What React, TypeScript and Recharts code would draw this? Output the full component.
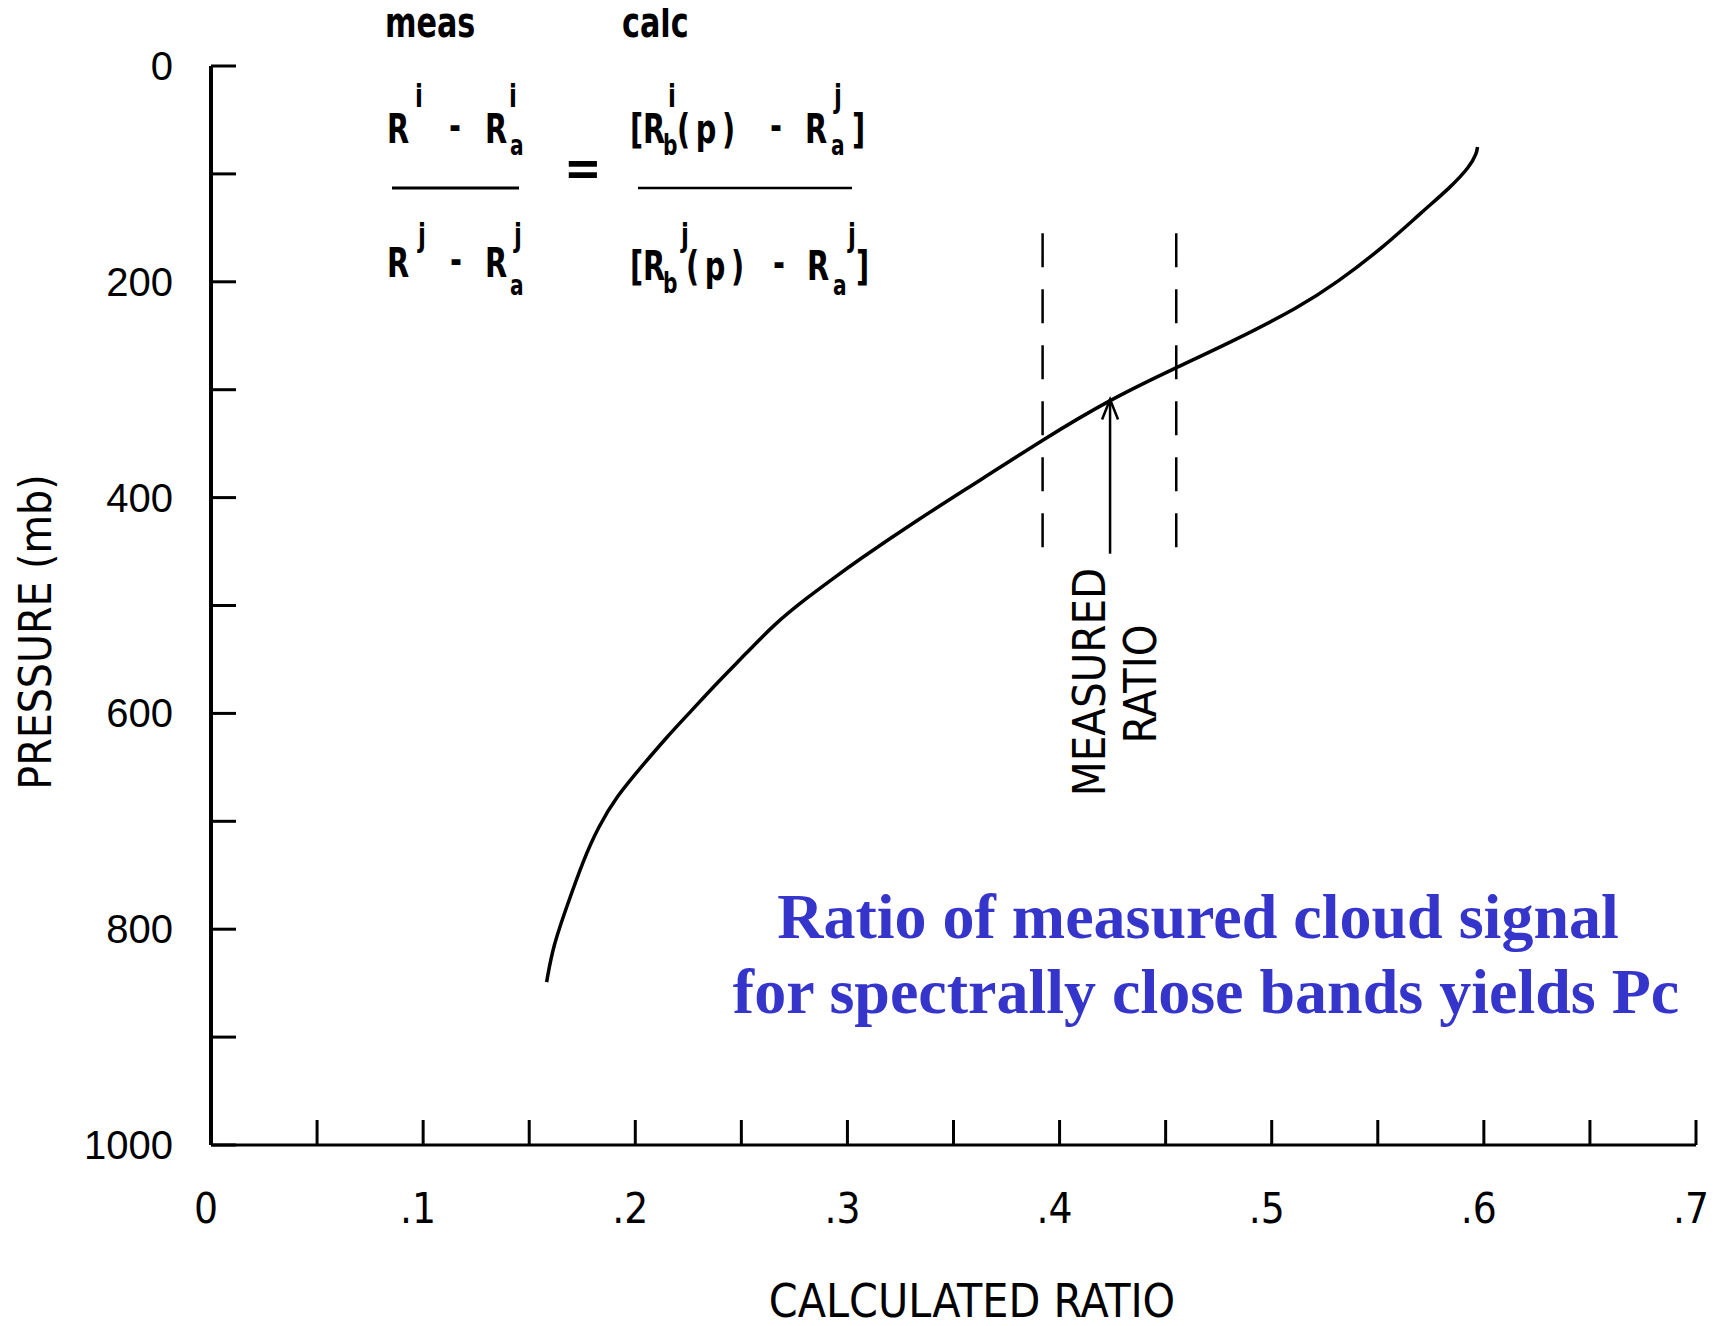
import React from 'react';
import { LineChart, Line, XAxis, YAxis, ReferenceLine } from 'recharts';

// ─── Data ────────────────────────────────────────────────────────────────────
const calcRatio = [
  0.1582, 0.1612, 0.1677, 0.1755, 0.1826, 0.1912, 0.2022, 0.2148, 0.2258, 0.2384, 0.2525, 0.2651,
  0.2808, 0.2933, 0.3036, 0.3327, 0.3641, 0.3923, 0.4238, 0.4544, 0.4819, 0.5133, 0.5306, 0.5526,
  0.5715, 0.584, 0.5935, 0.5966, 0.597,
];
const pressureMb = [
  849, 816, 779, 736, 705, 677, 651, 622, 599, 572, 544, 518,
  493, 475, 460, 421, 382, 346, 309, 280, 255, 223, 201, 168,
  134, 113, 93, 81, 75,
];

const xTicks = [0, 0.05, 0.1, 0.15, 0.2, 0.25, 0.3, 0.35, 0.4, 0.45, 0.5, 0.55, 0.6, 0.65, 0.7];
const xTickLabels = ['0', '', '.1', '', '.2', '', '.3', '', '.4', '', '.5', '', '.6', '', '.7'];
const yTicks = [0, 100, 200, 300, 400, 500, 600, 700, 800, 900, 1000];
const yTickLabels = ['0', '', '200', '', '400', '', '600', '', '800', '', '1000'];

// measured-ratio band (dashed) and arrow
const bandRatios = [0.392, 0.455];
const bandPressure = [155, 446];
const measuredRatio = 0.4238;
const arrowPressure = [452, 309];

const rows = calcRatio.map((r, i) => ({ r, p: pressureMb[i] }));

// ─── Fonts ───────────────────────────────────────────────────────────────────
const NARROW = "'Liberation Sans Narrow', 'DejaVu Sans Condensed', 'Arial Narrow', sans-serif";
const SANS = "'Liberation Sans', Arial, sans-serif";
const SERIF = "'Liberation Serif', 'Times New Roman', serif";

// ─── Ticks ───────────────────────────────────────────────────────────────────
const XTick = ({ x, y, index }: any) => {
  const label = xTickLabels[index];
  if (!label) return null;
  return (
    <text x={x - 5} y={y} textAnchor="middle" dominantBaseline="central"
      fontFamily={NARROW} fontSize={42} fill="#000">{label}</text>
  );
};

const YTick = ({ x, y, index }: any) => {
  const label = yTickLabels[index];
  if (!label) return null;
  return (
    <text x={x} y={y} textAnchor="end" dominantBaseline="central"
      fontFamily={SANS} fontSize={40} fill="#000">{label}</text>
  );
};

const ArrowShape = ({ x1, y1, x2, y2 }: any) => (
  <g stroke="#000" strokeWidth={2.5} fill="none">
    <line x1={x1} y1={y1} x2={x2} y2={y2} />
    <polyline points={`${x2 - 8},${y2 + 20} ${x2},${y2} ${x2 + 8},${y2 + 20}`} />
  </g>
);

// ─── Formula (main, sub, sup pieces) ─────────────────────────────────────────
type Piece = [string, number, number, number];
const formula: Piece[] = [
  ['meas', 385, 37, 42], ['calc', 622, 37, 42],
  // numerator left
  ['R', 387, 143, 40], ['i', 415, 107, 32], ['-', 449, 140, 40],
  ['R', 485, 143, 40], ['a', 510, 155, 28], ['i', 509, 107, 32],
  // numerator right
  ['[', 630, 143, 40], ['R', 643, 143, 40], ['b', 663, 155, 28], ['i', 668, 107, 32],
  ['(p)', 677, 143, 40], ['-', 770, 140, 40], ['R', 805, 143, 40], ['a', 831, 155, 28],
  ['j', 834, 107, 32], [']', 852, 143, 40],
  // denominator left
  ['R', 387, 277, 40], ['j', 418, 246, 32], ['-', 450, 274, 40],
  ['R', 485, 277, 40], ['a', 510, 295, 28], ['j', 514, 246, 32],
  // denominator right
  ['[', 630, 280, 40], ['R', 643, 280, 40], ['b', 663, 293, 28], ['j', 681, 246, 32],
  ['(p)', 686, 280, 40], ['-', 773, 277, 40], ['R', 807, 280, 40], ['a', 833, 295, 28],
  ['j', 848, 246, 32], [']', 856, 280, 40],
];

const Overlay = () => (
  <svg width={1700} height={1310} style={{ position: 'absolute', left: 0, top: 0, overflow: 'visible', pointerEvents: 'none' }}>
    <g transform="translate(-8,-8)">
      {formula.map(([t, x, y, s], i) => (
        <text key={i} transform={`translate(${x},${y}) scale(0.8,1)`} fontFamily={NARROW}
          fontWeight="bold" fontSize={s} fill="#000" letterSpacing={t === '(p)' ? 7 : 0}>{t}</text>
      ))}
      <line x1={392} y1={188} x2={519} y2={188} stroke="#000" strokeWidth={3} />
      <line x1={638} y1={188} x2={852} y2={188} stroke="#000" strokeWidth={2.5} />
      <text x={564} y={185} fontFamily={NARROW} fontWeight="bold" fontSize={50} fill="#000">=</text>

      <text transform="translate(35,632) rotate(-90)" textAnchor="middle" dominantBaseline="central"
        fontFamily={NARROW} fontSize={44} fill="#000">PRESSURE (mb)</text>
      <text x={972} y={1317} textAnchor="middle" fontFamily={NARROW} fontSize={46} fill="#000">CALCULATED RATIO</text>

      <text transform="translate(1089,682) rotate(-90)" textAnchor="middle" dominantBaseline="central"
        fontFamily={NARROW} fontSize={45} fill="#000">MEASURED</text>
      <text transform="translate(1140,684) rotate(-90)" textAnchor="middle" dominantBaseline="central"
        fontFamily={NARROW} fontSize={45} fill="#000">RATIO</text>

      <text x={1198} y={938} textAnchor="middle" fontFamily={SERIF} fontWeight="bold" fontSize={64} fill="#3535CC">
        Ratio of measured cloud signal
      </text>
      <text x={1206} y={1013} textAnchor="middle" fontFamily={SERIF} fontWeight="bold" fontSize={64} fill="#3535CC">
        for spectrally close bands yields Pc
      </text>
    </g>
  </svg>
);

export default function App() {
  return (
    <div style={{ position: 'relative', width: 1700, height: 1310, background: '#fff' }}>
      <LineChart width={1700} height={1310} data={rows} margin={{ top: 58, right: 12, bottom: 23, left: 53 }}>
        <XAxis
          dataKey="r" type="number" domain={[0, 0.7]} ticks={xTicks} interval={0} allowDataOverflow
          height={150} tickSize={-25} tickMargin={88}
          axisLine={{ stroke: '#000', strokeWidth: 3 }}
          tickLine={{ stroke: '#000', strokeWidth: 3 }}
          tick={(props: any) => <XTick {...props} />}
        />
        <YAxis
          type="number" domain={[0, 1000]} reversed ticks={yTicks} interval={0} allowDataOverflow
          width={150} tickSize={-25} tickMargin={63}
          axisLine={{ stroke: '#000', strokeWidth: 4 }}
          tickLine={{ stroke: '#000', strokeWidth: 3 }}
          tick={(props: any) => <YTick {...props} />}
        />
        {bandRatios.map(r => (
          <ReferenceLine
            key={r}
            segment={[{ x: r, y: bandPressure[0] }, { x: r, y: bandPressure[1] }]}
            stroke="#000" strokeWidth={2.5} strokeDasharray="34 22"
          />
        ))}
        <ReferenceLine
          segment={[{ x: measuredRatio, y: arrowPressure[0] }, { x: measuredRatio, y: arrowPressure[1] }]}
          shape={(props: any) => <ArrowShape {...props} />}
        />
        <Line
          dataKey="p" type="basis" stroke="#000" strokeWidth={3.5}
          dot={false} activeDot={false} isAnimationActive={false}
        />
      </LineChart>
      <Overlay />
    </div>
  );
}
